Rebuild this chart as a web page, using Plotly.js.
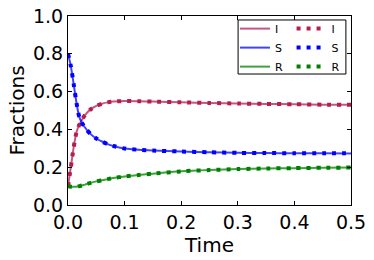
<!DOCTYPE html>
<html>
<head>
<meta charset="utf-8">
<script src="https://cdn.plot.ly/plotly-3.0.1.min.js"></script>
<style>html,body{margin:0;padding:0;background:#fff;}#chart{width:374px;height:260px;}</style>
</head>
<body>
<div id="chart"></div>
<script>
// Time points
var time = [0, 0.005, 0.01, 0.015, 0.02, 0.025, 0.03, 0.04, 0.05, 0.06, 0.07, 0.08, 0.1, 0.125, 0.15, 0.2, 0.25, 0.3, 0.35, 0.4, 0.45, 0.5];
// Fractions
var fracI = [0.10, 0.20, 0.305, 0.385, 0.425, 0.452, 0.476, 0.506, 0.524, 0.536, 0.543, 0.547, 0.550, 0.549, 0.547, 0.543, 0.540, 0.537, 0.535, 0.533, 0.531, 0.530];
var fracS = [0.80, 0.735, 0.64, 0.54, 0.465, 0.433, 0.41, 0.375, 0.352, 0.336, 0.322, 0.312, 0.299, 0.292, 0.288, 0.283, 0.279, 0.276, 0.275, 0.274, 0.274, 0.273];
var fracR = [0.10, 0.097, 0.096, 0.097, 0.100, 0.104, 0.108, 0.117, 0.125, 0.131, 0.137, 0.143, 0.151, 0.159, 0.166, 0.178, 0.185, 0.190, 0.193, 0.195, 0.197, 0.198];
var names = ["I", "S", "R"];
var colors = ["#b21f4e", "#0000ff", "#008000"];
var series = [fracI, fracS, fracR];

var traces = [];
for (var k = 0; k < 3; k++) {
  traces.push({
    x: time, y: series[k], mode: "lines", name: names[k], legend: "legend",
    line: {color: colors[k], width: 2, shape: "spline", smoothing: 0.7}, opacity: 0.75
  });
}
for (var k = 0; k < 3; k++) {
  traces.push({
    x: time, y: series[k], mode: "lines", name: names[k], legend: "legend2",
    line: {color: colors[k], width: 4, dash: "4px,6px", shape: "spline", smoothing: 0.7}
  });
}

var fontFam = "DejaVu Sans, sans-serif";
var axisCommon = {
  showgrid: false, zeroline: false, showline: true, linecolor: "#000", linewidth: 1,
  mirror: "ticks", ticks: "inside", ticklen: 4, tickcolor: "#000", tickwidth: 1,
  tickfont: {family: fontFam, size: 19, color: "#000"}
};
var legendCommon = {
  font: {family: fontFam, size: 11, color: "#000"}, bgcolor: "rgba(0,0,0,0)",
  borderwidth: 0, yanchor: "top", xanchor: "left", tracegroupgap: 0, itemwidth: 30
};

var layout = {
  width: 374, height: 260,
  margin: {l: 68, r: 23, t: 16, b: 55},
  paper_bgcolor: "#fff", plot_bgcolor: "#fff",
  showlegend: true,
  xaxis: Object.assign({}, axisCommon, {
    range: [0, 0.5], tickvals: [0, 0.1, 0.2, 0.3, 0.4, 0.5], ticktext: ["0.0", "0.1", "0.2", "0.3", "0.4", "0.5"],
    title: {text: "Time", font: {family: fontFam, size: 20, color: "#000"}, standoff: 2}
  }),
  yaxis: Object.assign({}, axisCommon, {
    range: [0, 1], tickvals: [0, 0.2, 0.4, 0.6, 0.8, 1.0], ticktext: ["0.0", "0.2", "0.4", "0.6", "0.8", "1.0"],
    title: {text: "Fractions", font: {family: fontFam, size: 20, color: "#000"}, standoff: 2}
  }),
  legend: Object.assign({}, legendCommon, {x: 0.59, y: 1.01}),
  legend2: Object.assign({}, legendCommon, {x: 0.79, y: 1.01}),
  shapes: [{
    type: "rect", xref: "paper", yref: "paper", x0: 0.601, x1: 0.982, y0: 0.693, y1: 0.979,
    line: {color: "#000", width: 1}, fillcolor: "rgba(0,0,0,0)"
  }]
};

Plotly.newPlot("chart", traces, layout, {displayModeBar: false, staticPlot: true});
</script>
</body>
</html>
